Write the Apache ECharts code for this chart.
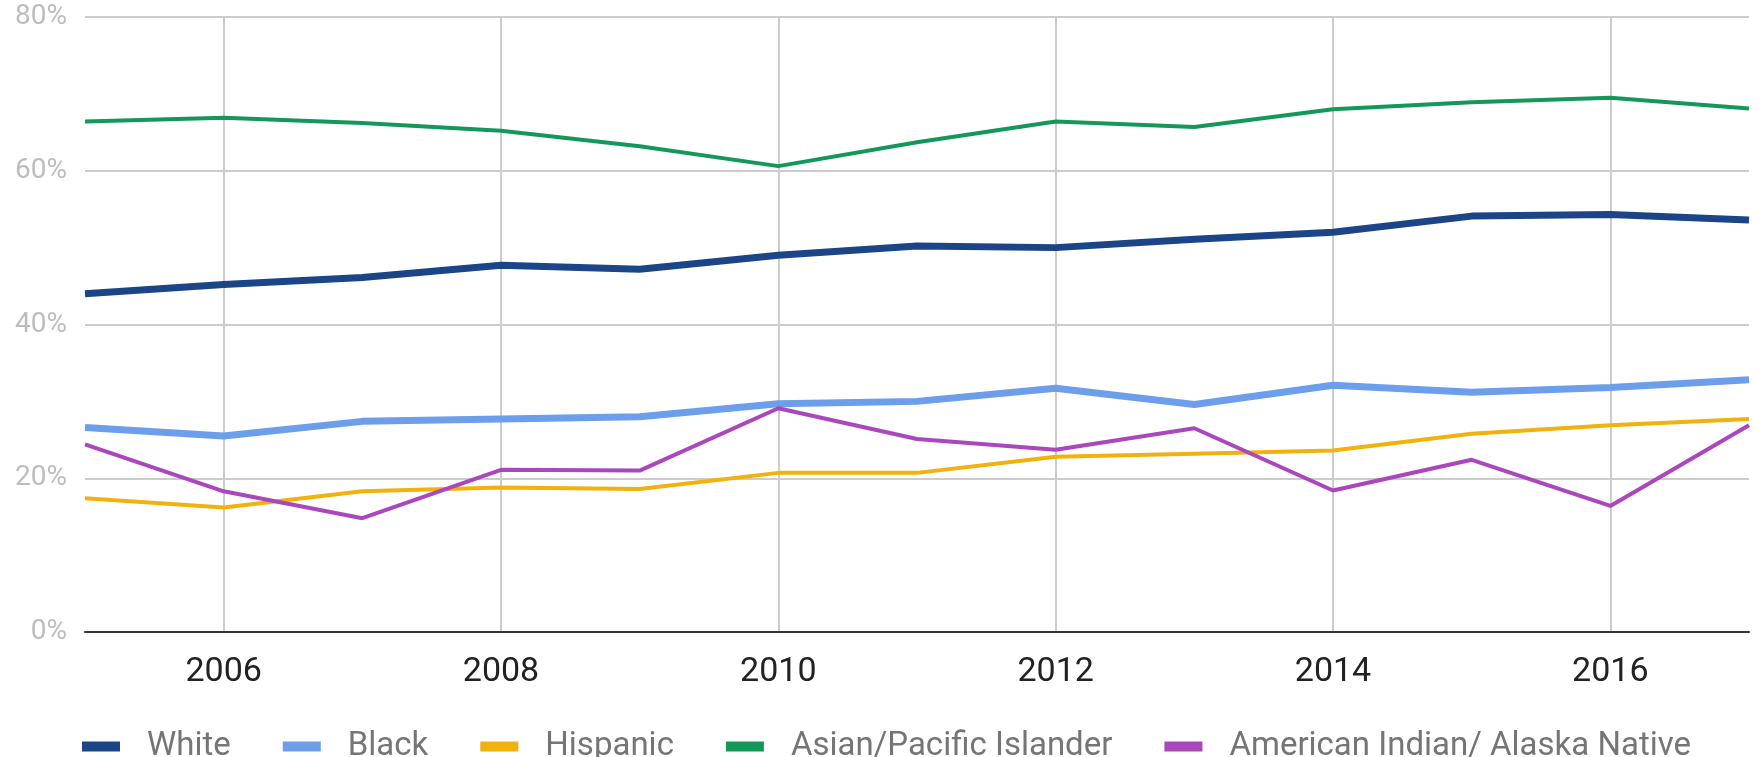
<!DOCTYPE html>
<html>
<head>
<meta charset="utf-8">
<script src="https://cdn.jsdelivr.net/npm/echarts@6/dist/echarts.min.js"></script>
<style>html,body{margin:0;padding:0;background:#fff;}#c{width:1759px;height:757px;}</style>
</head>
<body>
<div id="c"></div>
<script>
const years = ['2005','2006','2007','2008','2009','2010','2011','2012','2013','2014','2015','2016','2017'];
const yTicks = [0, 20, 40, 60, 80];
const white    = [44.0, 45.2, 46.1, 47.7, 47.2, 49.0, 50.2, 50.0, 51.1, 52.0, 54.1, 54.3, 53.6];
const black    = [26.6, 25.5, 27.4, 27.7, 28.0, 29.7, 30.0, 31.7, 29.6, 32.1, 31.2, 31.8, 32.8];
const hispanic = [17.4, 16.2, 18.3, 18.8, 18.6, 20.7, 20.7, 22.8, 23.2, 23.6, 25.8, 26.9, 27.7];
const asian    = [66.4, 66.9, 66.2, 65.2, 63.2, 60.6, 63.7, 66.4, 65.7, 68.0, 68.9, 69.5, 68.1];
const native   = [24.4, 18.3, 14.8, 21.1, 21.0, 29.1, 25.1, 23.7, 26.5, 18.4, 22.4, 16.4, 26.9];
const seriesNames = ['White', 'Black', 'Hispanic', 'Asian/Pacific Islander', 'American Indian/ Alaska Native'];

const chart = echarts.init(document.getElementById('c'));
const mk = (name, data, color, width) => ({
  name, type: 'line', data, showSymbol: false, symbol: 'none',
  lineStyle: { color, width }, itemStyle: { color }, z: 3
});
chart.setOption({
  animation: false,
  grid: { left: 85, right: 10, top: 17, bottom: 125, containLabel: false },
  legend: {
    left: 77, top: 725,
    itemWidth: 38, itemHeight: 10, itemGap: 52, icon: 'rect',
    data: seriesNames,
    textStyle: { fontFamily: 'Roboto', fontSize: 33, color: '#757575', padding: [0, 0, 0, 22] }
  },
  xAxis: {
    type: 'category', data: years, boundaryGap: false,
    axisLine: { show: true, lineStyle: { color: '#333', width: 2 } },
    axisTick: { show: false },
    axisLabel: {
      interval: (i) => i % 2 === 1,
      fontFamily: 'Roboto', fontSize: 34, color: '#222', margin: 23
    },
    splitLine: { show: true, interval: (i) => i % 2 === 1, lineStyle: { color: '#cccccc', width: 2 } }
  },
  yAxis: {
    type: 'value', min: yTicks[0], max: yTicks[yTicks.length - 1], interval: 20,
    axisLine: { show: false }, axisTick: { show: false },
    axisLabel: { formatter: '{value}%', fontFamily: 'Roboto', fontSize: 28, color: '#bdbdbd', margin: 18 },
    splitLine: { lineStyle: { color: '#cccccc', width: 2 } }
  },
  series: [
    mk('White', white, '#1c4587', 7),
    mk('Black', black, '#6d9eeb', 7),
    mk('Hispanic', hispanic, '#f1b20d', 4),
    mk('Asian/Pacific Islander', asian, '#14985a', 4),
    mk('American Indian/ Alaska Native', native, '#ab47bc', 4)
  ]
});
</script>
</body>
</html>
